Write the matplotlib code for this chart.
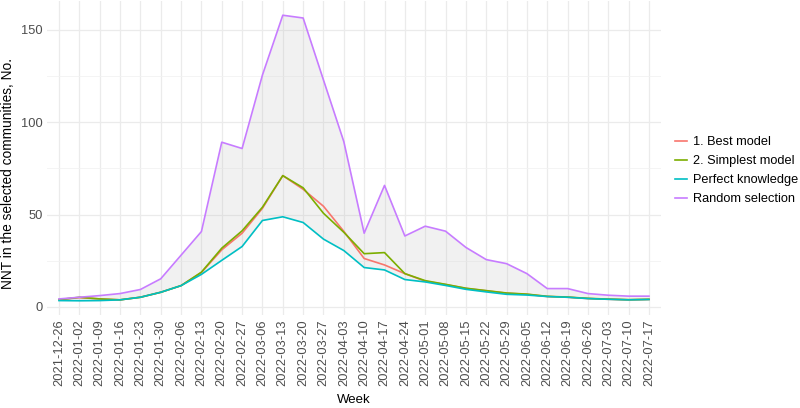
import matplotlib
matplotlib.use("Agg")
import matplotlib.pyplot as plt

weeks = ["2021-12-26", "2022-01-02", "2022-01-09", "2022-01-16", "2022-01-23",
         "2022-01-30", "2022-02-06", "2022-02-13", "2022-02-20", "2022-02-27",
         "2022-03-06", "2022-03-13", "2022-03-20", "2022-03-27", "2022-04-03",
         "2022-04-10", "2022-04-17", "2022-04-24", "2022-05-01", "2022-05-08",
         "2022-05-15", "2022-05-22", "2022-05-29", "2022-06-05", "2022-06-12",
         "2022-06-19", "2022-06-26", "2022-07-03", "2022-07-10", "2022-07-17"]

best_model = [3.9, 5.0, 4.3, 3.8, 5.2, 7.9, 11.5, 18.6, 30.9, 39.9,
              53.4, 71.1, 63.7, 54.5, 40.9, 26.2, 22.7, 18.0, 13.9, 12.1,
              10.0, 8.7, 7.4, 6.8, 5.6, 5.2, 4.5, 4.1, 3.8, 4.0]
simplest_model = [3.9, 5.2, 4.3, 3.8, 5.2, 7.9, 11.5, 18.8, 31.8, 41.2,
                  54.0, 71.1, 64.5, 50.7, 40.4, 28.8, 29.4, 18.0, 14.2, 12.2,
                  10.1, 8.8, 7.5, 6.9, 5.7, 5.3, 4.6, 4.2, 3.9, 4.1]
perfect_knowledge = [3.4, 3.3, 3.4, 3.8, 5.2, 7.9, 11.5, 17.6, 25.2, 32.7,
                     46.8, 48.8, 45.7, 36.7, 30.5, 21.3, 20.0, 14.8, 13.5, 11.6,
                     9.5, 8.1, 6.8, 6.4, 5.6, 5.2, 4.5, 4.1, 3.8, 4.0]
random_selection = [4.3, 5.2, 6.1, 7.2, 9.4, 15.2, 28.0, 40.8, 89.2, 85.8,
                    125.6, 158.0, 156.5, 122.9, 89.5, 39.9, 65.8, 38.4, 43.7, 41.0,
                    32.2, 25.6, 23.4, 18.0, 9.9, 9.9, 7.2, 6.3, 5.8, 5.8]

series = [("1. Best model", best_model, "#F8766D"),
          ("2. Simplest model", simplest_model, "#7CAE00"),
          ("Perfect knowledge", perfect_knowledge, "#00BFC4"),
          ("Random selection", random_selection, "#C77CFF")]

plt.rcParams["font.family"] = ["Liberation Sans", "DejaVu Sans"]

fig = plt.figure(figsize=(8, 4.08), dpi=100)
ax = fig.add_axes([0.0585, 0.228, 0.768, 0.7695])

x = list(range(len(weeks)))

# shaded band between perfect knowledge and random selection
ax.fill_between(x, perfect_knowledge, random_selection, color="#BDBDBD",
                alpha=0.2, linewidth=0, zorder=1)

for label, vals, col in series:
    ax.plot(x, vals, color=col, linewidth=1.2, label=label, zorder=3)

ax.set_xlim(-0.6, len(weeks) - 0.4)
ax.set_ylim(-4.4, 165.7)
ax.set_xticks(x)
ax.set_xticklabels(weeks, rotation=90, fontsize=9.3, color="#4D4D4D")
ax.set_yticks([0, 50, 100, 150])
ax.set_yticks([25, 75, 125], minor=True)
ax.tick_params(axis="y", labelsize=9.3, labelcolor="#4D4D4D")
ax.tick_params(which="both", length=0, pad=3)

ax.grid(True, which="major", color="#EBEBEB", linewidth=0.9)
ax.grid(True, which="minor", axis="y", color="#F2F2F2", linewidth=0.6)
ax.set_axisbelow(True)
for s in ax.spines.values():
    s.set_visible(False)

ax.set_xlabel("Week", fontsize=9.5, labelpad=6)
ax.set_ylabel("NNT in the selected communities, No.", fontsize=9.9)
ax.yaxis.set_label_coords(-0.051, 0.452)

ax.legend(loc="center left", bbox_to_anchor=(1.008, 0.459), frameon=False,
          fontsize=9.2, handlelength=0.95, handletextpad=0.45,
          labelspacing=0.55, borderaxespad=0.3)

fig.savefig("out.png", dpi=100)
